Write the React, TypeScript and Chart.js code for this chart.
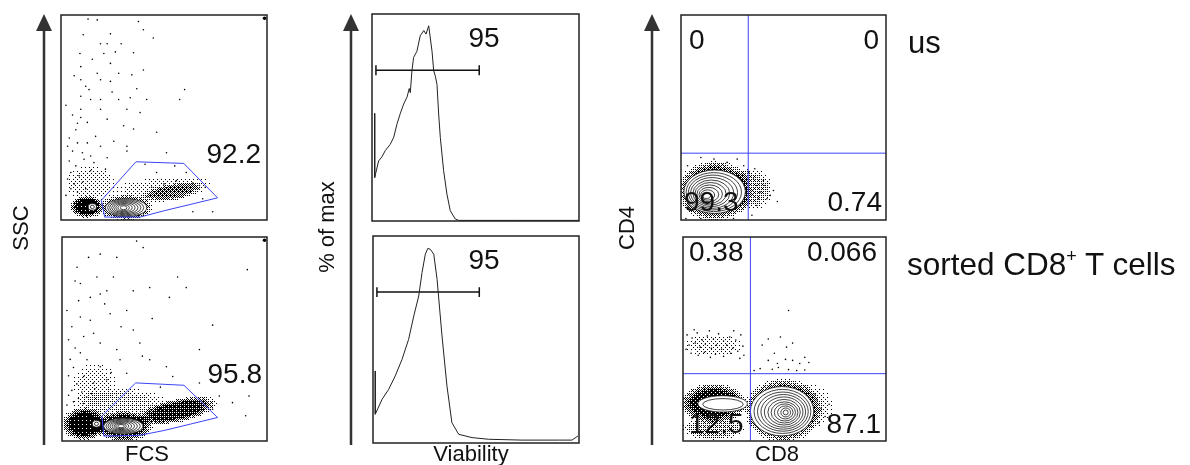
import React, { useEffect, useRef } from "react";
import { Chart, registerables } from "chart.js";

Chart.register(...registerables);

// ---------------- DATA ----------------
// FSC / SSC panels (both axes 0-250 K)
const fscTopDots: number[][] = [
  [32.8,245],[44,244],[94,242],[100,232],[60,227],[27,226],[48,215],[56,215],[73,215],[23,203],[52,203],[88,204],
  [60,191],[24,187],[44,179],[100,183],[70,179],[86,177],[24,171],[48,171],[30,163],[60,169],[34,159],[150,159],
  [24,151],[36,147],[48,147],[70,147],[84,149],[104,147],[144,147],[24,135],[48,135],[80,135],[96,131],[24,125],
  [56,123],[32,119],[76,115],[88,111],[20,94],[32,94],[48,90],[80,90],[116,107],[26,82],[36,78],[56,76],[80,84],
  [128,82],[116,58],[152,58],[168,42],[172,26],[184,10],[160,10],[100,6],
  [8,90],[14,84],[10,72],[18,66],[12,58],[22,54],[8,50],[16,44],[26,46],[12,38],[20,34],[30,38],[6,30],[36,60],
  [40,70],[28,74],[10,100],[18,110],[14,128],[20,118],[6,140],[110,40],[125,44],[140,48],[160,45],[175,40],
  [38,196],[66,205],[112,222],[16,176],[62,156],[92,160],[42,102],[64,96],[102,68],[138,66],[54,62],
];
const fscBottomDots: number[][] = [
  [18.4,213],[32.4,225],[46.6,229],[66.8,225],[91,245],[99,237],[62.7,201],[22.4,193],[42.6,201],[20.3,172],
  [34.5,176],[46.6,180],[54.7,184],[86.9,184],[107,188],[131,176],[141,201],[151.5,188],[226,210],[183.7,142],
  [22.4,152],[34.5,148],[58.7,156],[78.9,160],[86.9,136],[26.4,128],[38.5,132],[46.6,120],[66.8,112],[95,120],
  [167.6,112],[22.4,108],[30.5,99.5],[46.6,91],[70.8,99.5],[107,99.5],[127.3,91],[26.4,79],[38.5,71],[54.7,75],
  [78.9,83],[135,79],[167.6,71],[191.8,55],[207.9,47],[224,31],[228,55],[183.7,39],
  [10,100],[14,90],[8,80],[18,70],[12,62],[24,60],[8,56],[20,52],[30,54],[14,48],[6,44],[26,46],[36,58],[40,64],
  [16,114],[8,124],[12,140],[6,160],[52,168],[72,140],[16,196],[110,150],[98,104],[60,84],[120,66],
];
const fscSaturated: number[][] = [[247, 246]];
const fscTopGate: number[][] = [[49,24],[91,71],[149,69],[190,27],[126,11.5],[96,3.6],[53,3.6],[49,24]];
const fscBottomGate: number[][] = [[48.7,30.7],[89.8,71.2],[148.7,68.3],[189.8,28.8],[125,13],[95,7],[51,6],[48.7,30.7]];
// event density regions: [cx, cy, rx, ry, rotation°, density]
const fscTopHalos: number[][] = [[31,16,21,14,0,0.97],[79,15,33,16,0,0.85],[135,34,42,11,-10,0.5],[36,44,32,24,0,0.14],[120,40,70,14,-6,0.1]];
const fscBottomHalos: number[][] = [[27,21,28,21,0,0.97],[75,18,37,19,0,0.9],[140,37,52,15,-12,0.8],[70,46,62,20,0,0.18],[40,70,30,30,0,0.1]];
// contour rings: [cx, cy, rx, ry]
const fscTopRings: number[][] = [[79,15,25,11],[78.5,15,22,9.8],[78,15,19,8.6],[77.5,15,16,7.4],[77,15,13,6.2],[76.5,15,10,5],[76,15,7,3.7],[76,15,4,2.4]];
const fscTopSmall: number[][] = [[38,16,5,4],[38,16,2.5,2]];
const fscBottomRings: number[][] = [[74.8,18.2,24,9.7],[74.5,18.2,21,8.6],[74,18.2,18,7.5],[73.5,18.2,15,6.4],[73,18.2,12,5.3],[72.5,18.2,9,4.2],[72,18.2,6.5,3.1],[72,18.2,4,2]];
const fscBottomSmall: number[][] = [[42,21,5,4],[42,21,2.5,2]];
const fscGatePct = ["92.2", "95.8"];

// Viability histograms (x 0-1000, y % of max)
const histTopX = [13,13,32,48,64,88,105,121,137,153,169,180,185,193,201,217,233,250,261,274,290,298,306,314,322,330,346,362,378,402,419,700,1000];
const histTopY = [52,21,29,31,34,37,40.5,47,52,56.5,59.8,64,62,72.6,79,82,89.5,92,90.3,94.3,82,72.6,70,66,51.7,40.4,24.3,13,5,1,0.3,0.3,0.3];
const histBottomX = [11,11,44,76,108,141,173,198,222,238,254,266,278,295,311,335,359,383,416,481,562,723,906,966,995];
const histBottomY = [34.8,13.9,21.1,25.9,32.4,40.4,50.1,61.4,71,82.3,91.2,94,93.6,91.2,79.1,51.7,27.5,9.8,4.2,2.6,1.8,1.4,1.4,1.4,3.4];
const viabilityGateTop = [19, 518, 72.8];
const viabilityGateBottom = [19, 516, 72.9];
const viabilityPct = ["95", "95"];

// CD8 / CD4 panels (both axes 0-1000)
const cdTopDots: number[][] = [
  [354,200],[370,168],[386,136],[402,192],[419,104],[435,120],[370,71],[346,23],[451,144],[410,168],[378,104],
  [97,305],[161,297],[225,281],[274,297],[32,265],[306,265],[330,233],[24,7],[97,7],[256,7],[470,90],[360,250],
];
const cdBottomDots: number[][] = [
  [20,520],[45,505],[70,530],[95,495],[120,515],[150,500],[175,525],[200,490],[230,510],[260,495],[285,520],
  [30,470],[60,480],[85,460],[110,475],[140,455],[165,470],[190,450],[215,470],[245,455],[270,440],[295,465],
  [40,430],[75,420],[105,435],[135,410],[160,425],[200,415],[235,430],[280,405],[15,450],[55,545],[130,540],
  [250,540],[300,420],[390,470],[420,500],[450,430],[480,510],[510,460],[540,480],[420,395],[465,380],[505,400],
  [540,395],[575,380],[520,640],[620,385],[600,410],[350,345],[380,355],[440,352],[470,360],[520,350],[560,345],
  [600,348],[660,200],[680,160],[700,120],[670,90],[720,180],[650,230],
];
const cdTopHalos: number[][] = [[164,142,190,150,0,0.95],[330,150,125,110,0,0.3]];
const cdBottomHalos: number[][] = [[150,185,170,100,0,0.88],[150,60,160,60,0,0.3],[493,150,195,160,0,0.95],[150,470,160,60,0,0.14],[600,170,150,120,0,0.16]];
const cdTopRings: number[][] = [[164,138,150,106],[160,136,135,95],[156,134,120,85],[152,132,105,75],[148,130,90,65],[144,128,76,55],[140,126,62,45],[136,124,48,35],[130,122,34,25],[124,120,20,15]];
const cdBottomLeftRings: number[][] = [[195,182,122,40],[197,180,100,28]];
const cdBottomRings: number[][] = [[488,146,156,121],[490,145,140,108],[492,144,125,96],[494,143,110,85],[496,142,95,74],[498,141,80,63],[500,140,66,52],[502,140,52,42],[504,140,38,32],[506,140,24,22],[506,140,12,12]];
const cd8Gate = [328, 332];
const cd4Gate = [326, 330];
const cdTopQuadrants = ["0", "0", "99.3", "0.74"];
const cdBottomQuadrants = ["0.38", "0.066", "12.5", "87.1"];

// ---------------- RENDERING ----------------
const BLUE = "#3a44f5";
const FONT = '"Liberation Sans", Arial, Helvetica, sans-serif';
const PAD = 3;
// ordered-dither threshold matrix used to render event density as stipple
const BAYER = [0, 8, 2, 10, 12, 4, 14, 6, 3, 11, 1, 9, 15, 7, 13, 5];

const pts = (arr: number[][]) => arr.map(([x, y]) => ({ x, y }));
const zip = (xs: number[], ys: number[]) => xs.map((x, i) => ({ x, y: ys[i] }));

function decorPlugin(spec: any) {
  return {
    id: "flowDecor",
    beforeDatasetsDraw(chart: any) {
      const { ctx, chartArea: a, scales, canvas } = chart;
      const px = (v: number) => scales.x.getPixelForValue(v);
      const py = (v: number) => scales.y.getPixelForValue(v);
      ctx.save();
      ctx.beginPath();
      ctx.rect(a.left, a.top, a.right - a.left, a.bottom - a.top);
      ctx.clip();
      const halos = spec.halos || [];
      if (halos.length) {
        const off = document.createElement("canvas");
        off.width = canvas.width;
        off.height = canvas.height;
        const o = off.getContext("2d") as CanvasRenderingContext2D;
        o.globalCompositeOperation = "lighter";
        halos.forEach(([cx, cy, rx, ry, rot, al]: number[]) => {
          const x0 = px(cx), y0 = py(cy);
          const rxp = Math.abs(px(cx + rx) - x0), ryp = Math.abs(py(cy + ry) - y0);
          o.save();
          o.translate(x0, y0);
          o.rotate((rot * Math.PI) / 180);
          o.scale(rxp, ryp);
          const g = o.createRadialGradient(0, 0, 0, 0, 0, 1);
          g.addColorStop(0, `rgba(0,0,0,${al})`);
          g.addColorStop(0.6, `rgba(0,0,0,${al})`);
          g.addColorStop(1, "rgba(0,0,0,0)");
          o.fillStyle = g;
          o.beginPath();
          o.arc(0, 0, 1, 0, Math.PI * 2);
          o.fill();
          o.restore();
        });
        const img = o.getImageData(0, 0, off.width, off.height);
        const d = img.data;
        for (let yy = 0; yy < off.height; yy++) {
          for (let xx = 0; xx < off.width; xx++) {
            const k = (yy * off.width + xx) * 4;
            const t = (BAYER[(yy % 4) * 4 + (xx % 4)] + 0.5) / 16;
            const on = d[k + 3] / 255 > t;
            d[k] = 0; d[k + 1] = 0; d[k + 2] = 0;
            d[k + 3] = on ? 255 : 0;
          }
        }
        o.putImageData(img, 0, 0);
        ctx.drawImage(off, 0, 0);
      }
      (spec.contours || []).forEach((rings: number[][]) => {
        rings.forEach(([cx, cy, rx, ry], i) => {
          const x0 = px(cx), y0 = py(cy);
          const rxp = Math.abs(px(cx + rx) - x0), ryp = Math.abs(py(cy + ry) - y0);
          ctx.beginPath();
          ctx.ellipse(x0, y0, rxp, ryp, 0, 0, Math.PI * 2);
          if (i === 0) {
            ctx.fillStyle = "#fff";
            ctx.fill();
          }
          ctx.lineWidth = 0.8;
          ctx.strokeStyle = "#111";
          ctx.stroke();
        });
      });
      ctx.restore();
    },
    afterDraw(chart: any) {
      const { ctx, chartArea: a } = chart;
      ctx.save();
      ctx.lineWidth = 1.5;
      ctx.strokeStyle = "#222";
      ctx.strokeRect(a.left, a.top, a.right - a.left, a.bottom - a.top);
      ctx.fillStyle = "#111";
      ctx.font = `28px ${FONT}`;
      ctx.textBaseline = "alphabetic";
      (spec.labels || []).forEach(([t, side, dx, dy]: any[]) => {
        ctx.textAlign = side;
        const x = side === "right" ? a.right - dx : a.left + dx;
        ctx.fillText(t, x, a.top + dy);
      });
      ctx.restore();
    },
  };
}

const dotSet = (arr: number[][], r = 0.8) => ({
  data: pts(arr),
  pointRadius: r,
  pointBackgroundColor: "#000",
  pointBorderWidth: 0,
  showLine: false,
});
const lineSet = (data: any[], color: string, width: number) => ({
  data,
  showLine: true,
  borderColor: color,
  borderWidth: width,
  pointRadius: 0,
  fill: false,
  tension: 0,
});

function baseConfig(datasets: any[], xmax: number, ymax: number, spec: any) {
  return {
    type: "scatter",
    data: { datasets },
    options: {
      animation: false,
      responsive: false,
      events: [],
      layout: { padding: PAD },
      scales: {
        x: { type: "linear", min: 0, max: xmax, display: false },
        y: { type: "linear", min: 0, max: ymax, display: false },
      },
      plugins: { legend: { display: false }, tooltip: { enabled: false } },
    },
    plugins: [decorPlugin(spec)],
  };
}

function gateBar(g: number[]) {
  const [x0, x1, lv] = g;
  return [
    { x: x0, y: lv - 2.4 }, { x: x0, y: lv + 2.4 }, { x: x0, y: lv },
    { x: x1, y: lv }, { x: x1, y: lv - 2.4 }, { x: x1, y: lv + 2.4 },
  ];
}

const PANELS = [
  {
    left: 60, top: 14, w: 208, h: 207,
    cfg: () => baseConfig(
      [dotSet(fscTopDots), dotSet(fscSaturated, 1.8), lineSet(pts(fscTopGate), BLUE, 1)], 250, 250,
      { halos: fscTopHalos, contours: [fscTopSmall, fscTopRings], labels: [[fscGatePct[0], "right", 6, 148]] }),
  },
  {
    left: 61, top: 236, w: 207, h: 206,
    cfg: () => baseConfig(
      [dotSet(fscBottomDots), dotSet(fscSaturated, 1.8), lineSet(pts(fscBottomGate), BLUE, 1)], 250, 250,
      { halos: fscBottomHalos, contours: [fscBottomSmall, fscBottomRings], labels: [[fscGatePct[1], "right", 5, 146]] }),
  },
  {
    left: 372, top: 14, w: 207, h: 207,
    cfg: () => baseConfig(
      [lineSet(zip(histTopX, histTopY), "#222", 1), lineSet(gateBar(viabilityGateTop), "#111", 1.5)], 1000, 100,
      { labels: [[viabilityPct[0], "center", 112, 33]] }),
  },
  {
    left: 373, top: 236, w: 206, h: 207,
    cfg: () => baseConfig(
      [lineSet(zip(histBottomX, histBottomY), "#222", 1), lineSet(gateBar(viabilityGateBottom), "#111", 1.5)], 1000, 100,
      { labels: [[viabilityPct[1], "center", 111, 33]] }),
  },
  {
    left: 680, top: 14, w: 207, h: 207,
    cfg: () => baseConfig(
      [dotSet(cdTopDots),
        lineSet([{ x: cd8Gate[0], y: 0 }, { x: cd8Gate[0], y: 1000 }], BLUE, 1),
        lineSet([{ x: 0, y: cd4Gate[0] }, { x: 1000, y: cd4Gate[0] }], BLUE, 1)], 1000, 1000,
      {
        halos: cdTopHalos, contours: [cdTopRings],
        labels: [[cdTopQuadrants[0], "left", 8, 34], [cdTopQuadrants[1], "right", 7, 34],
          [cdTopQuadrants[2], "left", 3, 196], [cdTopQuadrants[3], "right", 4, 196]],
      }),
  },
  {
    left: 682, top: 236, w: 205, h: 206,
    cfg: () => baseConfig(
      [dotSet(cdBottomDots),
        lineSet([{ x: cd8Gate[1], y: 0 }, { x: cd8Gate[1], y: 1000 }], BLUE, 1),
        lineSet([{ x: 0, y: cd4Gate[1] }, { x: 1000, y: cd4Gate[1] }], BLUE, 1)], 1000, 1000,
      {
        halos: cdBottomHalos, contours: [cdBottomLeftRings, cdBottomRings],
        labels: [[cdBottomQuadrants[0], "left", 6, 24], [cdBottomQuadrants[1], "right", 9, 24],
          [cdBottomQuadrants[2], "left", 6, 196], [cdBottomQuadrants[3], "right", 5, 196]],
      }),
  },
];

const ARROWS = [44, 351, 652];
const Y_TITLES = [
  { t: "SSC", x: 21, y: 228 },
  { t: "% of max", x: 327, y: 227 },
  { t: "CD4", x: 627, y: 228 },
];
const X_TITLES = [
  { t: "FCS", x: 147 },
  { t: "Viability", x: 471 },
  { t: "CD8", x: 777 },
];

export default function App() {
  const refs = [useRef<HTMLCanvasElement>(null), useRef<HTMLCanvasElement>(null), useRef<HTMLCanvasElement>(null),
    useRef<HTMLCanvasElement>(null), useRef<HTMLCanvasElement>(null), useRef<HTMLCanvasElement>(null)];

  useEffect(() => {
    const charts = PANELS.map((p, i) => new Chart(refs[i].current as HTMLCanvasElement, p.cfg() as any));
    return () => charts.forEach((c) => c.destroy());
  }, []);

  return (
    <div style={{ position: "absolute", left: 0, top: 0, width: 1190, height: 465, background: "#fff", overflow: "hidden", fontFamily: FONT, color: "#111" }}>
      {PANELS.map((p, i) => (
        <canvas key={i} ref={refs[i]} width={p.w + 2 * PAD} height={p.h + 2 * PAD}
          style={{ position: "absolute", left: p.left - PAD, top: p.top - PAD, width: p.w + 2 * PAD, height: p.h + 2 * PAD }} />
      ))}
      <svg width={1190} height={465} style={{ position: "absolute", left: 0, top: 0, pointerEvents: "none" }}>
        {ARROWS.map((x) => (
          <g key={x}>
            <line x1={x} y1={28} x2={x} y2={445} stroke="#333" strokeWidth={2.5} />
            <polygon points={`${x},14 ${x - 8},31 ${x + 8},31`} fill="#333" />
          </g>
        ))}
      </svg>
      {Y_TITLES.map((d) => (
        <div key={d.t} style={{ position: "absolute", left: d.x, top: d.y, fontSize: 22, lineHeight: "22px", whiteSpace: "nowrap", transform: "translate(-50%,-50%) rotate(-90deg)" }}>{d.t}</div>
      ))}
      {X_TITLES.map((d) => (
        <div key={d.t} style={{ position: "absolute", left: d.x, top: 442.5, fontSize: 22, lineHeight: "22px", whiteSpace: "nowrap", transform: "translateX(-50%)" }}>{d.t}</div>
      ))}
      <div style={{ position: "absolute", left: 908, top: 27, fontSize: 31, lineHeight: "31px", whiteSpace: "nowrap" }}>us</div>
      <div style={{ position: "absolute", left: 907, top: 249, fontSize: 31.5, lineHeight: "31px", whiteSpace: "nowrap" }}>
        sorted CD8<span style={{ fontSize: 18, position: "relative", top: -13 }}>+</span> T cells
      </div>
    </div>
  );
}
